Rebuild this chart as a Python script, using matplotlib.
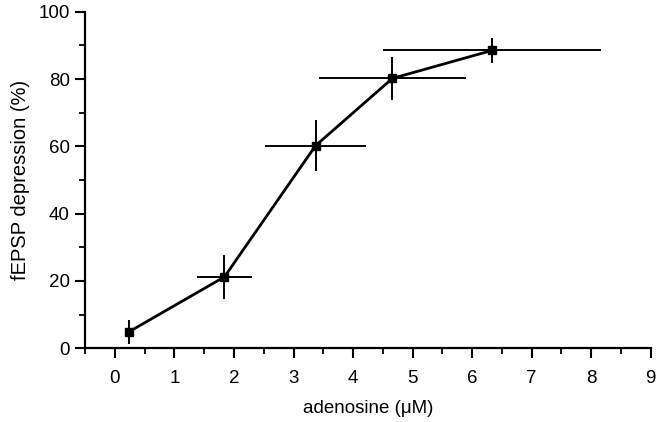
import matplotlib.pyplot as plt
from matplotlib.ticker import MultipleLocator

plt.rcParams['font.family'] = ['Liberation Sans', 'DejaVu Sans']

conc = [0.23, 1.84, 3.37, 4.66, 6.33]
conc_err = [0.0, 0.46, 0.85, 1.23, 1.83]
depression = [4.8, 21.2, 60.2, 80.2, 88.5]
depression_err = [3.5, 6.6, 7.5, 6.4, 3.8]

fig = plt.figure(figsize=(6.6, 4.22), dpi=100)
ax = fig.add_axes([0.129, 0.175, 0.857, 0.797])

ax.errorbar(conc, depression, xerr=conc_err, yerr=depression_err,
            color='black', lw=2, marker='s', ms=6, elinewidth=1.4,
            capsize=0, clip_on=False)

ax.set_xlim(-0.5, 9)
ax.set_ylim(0, 100)
ax.xaxis.set_major_locator(MultipleLocator(1))
ax.xaxis.set_minor_locator(MultipleLocator(0.5))
ax.yaxis.set_major_locator(MultipleLocator(20))
ax.yaxis.set_minor_locator(MultipleLocator(10))
ax.tick_params(which='major', length=7, width=1.5, labelsize=13.5, direction='out')
ax.tick_params(which='minor', length=4, width=1.3, direction='out')
ax.tick_params(axis='x', pad=9)
ax.tick_params(axis='y', pad=4)

for side in ['top', 'right']:
    ax.spines[side].set_visible(False)
for side in ['left', 'bottom']:
    ax.spines[side].set_linewidth(1.6)

ax.set_xlabel('adenosine (\u03bcM)', fontsize=13.5, labelpad=9)
ax.set_ylabel('fEPSP depression (%)', fontsize=14.5, labelpad=6)

fig.savefig('out.png', dpi=100)
